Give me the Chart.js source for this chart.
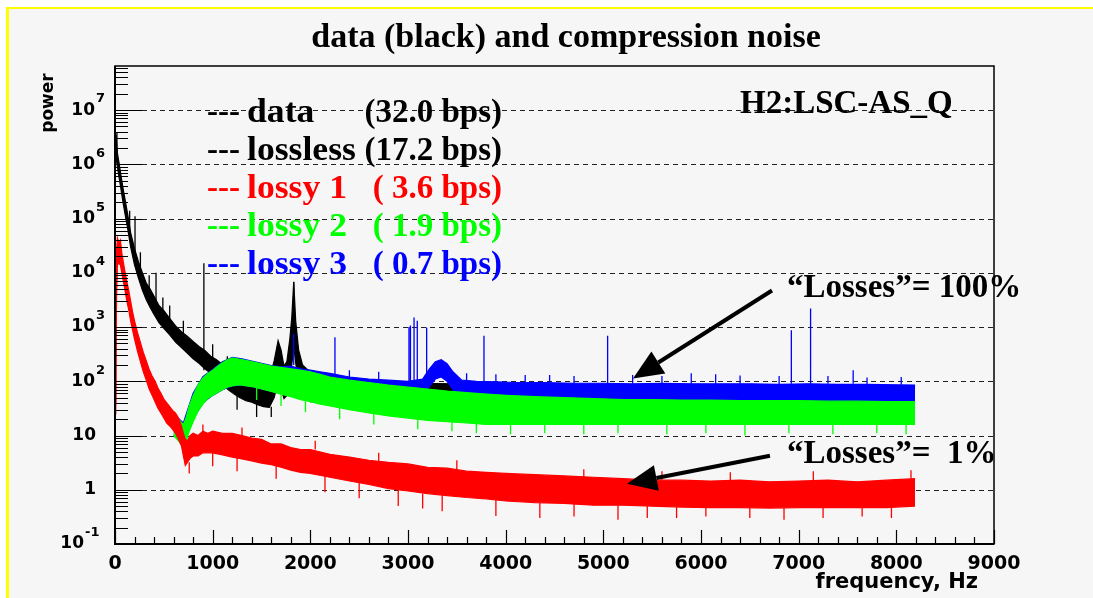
<!DOCTYPE html>
<html>
<head>
<meta charset="utf-8">
<script src="https://cdn.jsdelivr.net/npm/chart.js@4"></script>
<style>
  html, body { margin: 0; padding: 0; background: #fff; }
  canvas { display: block; }
</style>
</head>
<body>
<canvas id="myChart" width="1093" height="598"></canvas>
<script>
// data (power vs frequency); bands are upper / lower edge of the noise
const blackFreq = [0, 10, 25, 40, 60, 80, 100, 130, 160, 200,
  240, 280, 320, 360, 400, 450, 500, 560, 620, 680,
  740, 800, 860, 920, 980, 1040, 1100, 1160, 1220, 1280,
  1340, 1400, 1460, 1520, 1580, 1630, 1670, 1700, 1730, 1760,
  1790, 1810, 1830, 1850, 1880, 1920, 1960, 2000, 2100, 2200,
  2400, 2600, 2800, 3000, 3500, 4000, 4500, 5000, 5500, 6000,
  6500, 7000, 7500, 8000, 8192];
const blackHi = [2.2e6, 3.5e6, 1.6e6, 1.1e6, 6.5e5, 3.8e5, 2.4e5, 1.2e5, 5.5e4, 2.8e4,
  1.6e4, 1.0e4, 6500, 5000, 3700, 2500, 2000, 1450, 1050, 820,
  680, 540, 440, 370, 290, 250, 205, 165, 145, 128,
  118, 108, 100, 102, 108, 240, 560, 380, 190, 230,
  600, 1500, 6800, 1300, 380, 200, 170, 150, 140, 120,
  110, 100, 95, 92, 90, 88, 88, 85, 85, 85,
  85, 85, 82, 82, 80];
const blackLo = [1.1e6, 1.4e6, 9e5, 6e5, 3.6e5, 2.1e5, 1.3e5, 6.5e4, 3e4, 1.4e4,
  8000, 4800, 3200, 2300, 1700, 1200, 950, 720, 530, 420,
  330, 260, 215, 170, 140, 110, 88, 70, 58, 50,
  44, 41, 37, 34, 33, 50, 100, 75, 48, 55,
  100, 200, 450, 220, 85, 58, 47, 42, 40, 38,
  38, 36, 36, 35, 35, 35, 35, 35, 35, 34,
  34, 34, 33, 33, 33];
// single lines: [frequency, from, to]
const blackSpikes = [[20, 1.4e6, 3.8e6], [150, 5e4, 1.4e5], [205, 2e4, 1.1e5], [260, 1.2e4, 2.4e4],
  [350, 4500, 9000], [420, 2000, 1e4], [490, 1500, 3500], [560, 1400, 2500], [700, 700, 1300],
  [910, 160, 1.5e4], [1000, 270, 480], [1150, 160, 290], [1250, 55, 30], [1400, 105, 170],
  [1450, 38, 22], [1550, 100, 160], [1600, 34, 22], [1830, 1000, 6800]];

const redFreq = [0, 8, 15, 25, 40, 55, 70, 85, 100, 120,
  140, 160, 180, 200, 230, 260, 290, 320, 350, 380,
  410, 440, 470, 500, 530, 560, 590, 620, 650, 680,
  700, 720, 740, 770, 800, 850, 900, 950, 1000, 1100,
  1200, 1300, 1400, 1500, 1600, 1700, 1800, 1900, 2000, 2200,
  2400, 2600, 2800, 3000, 3200, 3400, 3600, 3800, 4000, 4300,
  4600, 4900, 5200, 5500, 5800, 6100, 6400, 6700, 7000, 7300,
  7600, 7900, 8192];
const redHi = [40, 2000, 2.5e4, 4.4e4, 3.5e4, 4e4, 2.3e4, 1.6e4, 1.1e4, 7000,
  4800, 3000, 1900, 1300, 800, 520, 340, 240, 165, 125,
  100, 75, 60, 47, 40, 34, 29, 26, 21, 15,
  11, 8.5, 8, 10, 11, 10, 12, 11, 12, 11,
  11, 10, 9, 8.5, 7, 7, 6, 5.5, 5.5, 4.5,
  4, 3.5, 3.2, 3, 2.6, 2.5, 2.2, 2.1, 2, 1.9,
  1.8, 1.7, 1.6, 1.5, 1.5, 1.45, 1.5, 1.4, 1.45, 1.5,
  1.4, 1.5, 1.6];
const redLo = [25, 30, 3000, 1.4e4, 1.5e4, 1.4e4, 1e4, 7000, 5000, 3100,
  2100, 1300, 880, 600, 360, 230, 150, 105, 72, 55,
  42, 32, 26, 21, 17, 15, 13, 11, 8.5, 6.5,
  4.2, 2.8, 3.2, 3.8, 4.2, 4.2, 4.8, 4.8, 4.8, 4.4,
  4.0, 3.7, 3.4, 3.1, 2.9, 2.6, 2.3, 2.1, 2.0, 1.7,
  1.45, 1.25, 1.05, 0.95, 0.85, 0.78, 0.72, 0.68, 0.62, 0.58,
  0.56, 0.52, 0.52, 0.5, 0.48, 0.47, 0.47, 0.46, 0.47, 0.47,
  0.47, 0.47, 0.5];
const redSpikes = [[760, 3.2, 2], [900, 12, 16], [1000, 4.8, 2.7], [1250, 3.9, 2.2], [1300, 10, 14],
  [1650, 2.8, 1.6], [2050, 5.5, 8], [2150, 1.8, 0.9], [2500, 1.4, 0.7], [2700, 3.4, 4.8],
  [2900, 1.0, 0.5], [3150, 0.85, 0.45], [3350, 0.8, 0.4], [3500, 2.4, 3.5], [3900, 0.66, 0.33],
  [4350, 0.58, 0.3], [4700, 0.55, 0.32], [4800, 1.7, 2.4], [5150, 0.52, 0.28], [5450, 0.5, 0.3],
  [5600, 1.5, 2.2], [5750, 0.48, 0.3], [6050, 0.47, 0.32], [6300, 1.5, 2.1], [6500, 0.47, 0.3],
  [6850, 0.46, 0.28], [7150, 1.5, 2.2], [7250, 0.47, 0.3], [7650, 0.47, 0.32], [7950, 0.47, 0.3],
  [8150, 1.6, 2.3]];

const greenFreq = [600, 650, 700, 730, 760, 800, 850, 900, 950, 1000,
  1050, 1100, 1150, 1200, 1250, 1300, 1350, 1400, 1500, 1600,
  1700, 1800, 1900, 2000, 2100, 2200, 2400, 2600, 2800, 3000,
  3200, 3400, 3600, 3800, 4000, 4300, 4600, 4900, 5200, 5500,
  5800, 6100, 6400, 6700, 7000, 7300, 7600, 7900, 8192];
const greenHi = [24, 20, 16, 22, 35, 55, 85, 115, 140, 160,
  190, 220, 250, 270, 260, 250, 240, 230, 210, 190,
  180, 170, 160, 150, 135, 120, 105, 95, 85, 78,
  72, 66, 62, 58, 55, 52, 50, 48, 46, 46,
  45, 45, 44, 44, 44, 43, 43, 42, 42];
const greenLo = [10, 8, 6, 8, 12, 18, 28, 38, 48, 55,
  62, 70, 78, 82, 85, 85, 82, 80, 72, 65,
  58, 52, 46, 42, 38, 35, 30, 26, 23, 21,
  19, 18, 17, 16, 16, 16, 16, 16, 16, 16,
  16, 16, 16, 16, 16, 16, 16, 16, 16];
const greenSpikes = [[1450, 76, 45], [1700, 58, 35], [1950, 44, 27], [2300, 32, 20], [2650, 26, 16],
  [3100, 20, 13], [3450, 18, 12], [3700, 17, 11], [4050, 16, 10.5], [4400, 16, 11],
  [4800, 16, 10.5], [5150, 16, 11], [5650, 16, 10.5], [6050, 16, 11], [6450, 16, 10],
  [6900, 16, 11], [7350, 16, 10.5], [7800, 16, 11], [8100, 16, 10.5]];

const blueFreq = [600, 700, 800, 900, 1000, 1100, 1200, 1300, 1400, 1500,
  1600, 1700, 1800, 1900, 2000, 2100, 2200, 2400, 2600, 2800,
  3000, 3150, 3220, 3280, 3340, 3400, 3460, 3550, 3700, 3900,
  4100, 4400, 4700, 5000, 5300, 5600, 5900, 6200, 6500, 6800,
  7100, 7400, 7700, 8000, 8192];
const blueHi = [25, 17, 60, 122, 165, 228, 275, 258, 235, 215,
  195, 185, 190, 170, 160, 150, 140, 120, 110, 105,
  100, 110, 170, 230, 250, 210, 150, 105, 100, 98,
  95, 95, 92, 92, 90, 92, 90, 90, 90, 88,
  90, 88, 88, 86, 85];
const blueLo = [10, 7, 20, 40, 55, 70, 82, 85, 80, 72,
  65, 60, 55, 50, 48, 47, 47, 46, 46, 46,
  46, 55, 80, 110, 120, 100, 70, 50, 46, 45,
  44, 44, 43, 43, 42, 42, 42, 42, 42, 42,
  42, 42, 42, 42, 42];
const blueSpikes = [[1830, 200, 760], [2252, 120, 650], [2400, 120, 160], [2700, 105, 150],
  [3010, 100, 1000], [3025, 100, 1070], [3062, 100, 1500], [3095, 100, 1300], [3191, 100, 980],
  [3600, 100, 140], [3778, 100, 690], [3900, 98, 135], [4200, 95, 130], [4450, 90, 130],
  [4700, 92, 125], [5044, 90, 690], [5300, 90, 130], [5600, 92, 125], [5900, 90, 140],
  [6150, 90, 135], [6400, 90, 128], [6800, 88, 125], [6925, 90, 870], [7122, 90, 2200],
  [7300, 90, 125], [7558, 90, 160], [7700, 88, 118], [8050, 86, 120]];

// legend / annotation texts
const legendNames = ['data', 'lossless', 'lossy 1', 'lossy 2', 'lossy 3'];
const legendRates = ['(32.0 bps)', '(17.2 bps)', '( 3.6 bps)', '( 1.9 bps)', '( 0.7 bps)'];
const legendColors = ['#000000', '#000000', '#ff0000', '#00ff00', '#0000ff'];
const xTicks = [0, 1000, 2000, 3000, 4000, 5000, 6000, 7000, 8000, 9000];
const yDecades = [-1, 0, 1, 2, 3, 4, 5, 6, 7];

const SERIF = '"Liberation Serif", "Times New Roman", serif';
const SANS = '"DejaVu Sans", sans-serif';

function band(freq, vals) {
  return freq.map((f, i) => ({x: f, y: vals[i]}));
}
function spikes(list) {
  let pts = [];
  list.forEach(s => {
    pts.push({x: s[0], y: s[1]}, {x: s[0], y: s[2]}, {x: s[0], y: null});
  });
  return pts;
}
function bandSets(freq, hi, lo, color, order) {
  return [
    {data: band(freq, hi), borderColor: color, backgroundColor: color, fill: '+1', order: order},
    {data: band(freq, lo), borderColor: color, backgroundColor: color, fill: false, order: order}
  ];
}
function spikeSet(list, color, order) {
  return {data: spikes(list), borderColor: color, fill: false, order: order, borderWidth: 1.3};
}

const framePlugin = {
  id: 'frame',
  beforeDraw(chart) {
    const c = chart.ctx;
    c.save();
    c.fillStyle = '#ffffff';
    c.fillRect(0, 0, chart.width, chart.height);
    c.fillStyle = '#f6f6f6';
    c.fillRect(6, 7, chart.width, chart.height);
    c.fillStyle = '#ffff00';
    c.fillRect(6, 7, 3, chart.height);
    c.fillRect(6, 7, chart.width, 2);
    c.restore();
  },
  beforeDatasetsDraw(chart) {
    const c = chart.ctx, a = chart.chartArea, y = chart.scales.y;
    c.save();
    c.strokeStyle = '#222';
    c.lineWidth = 1;
    c.setLineDash([5, 4]);
    yDecades.forEach(e => {
      if (e < 0) return;
      const py = Math.round(y.getPixelForValue(Math.pow(10, e))) + 0.5;
      c.beginPath();
      c.moveTo(a.left, py);
      c.lineTo(a.right, py);
      c.stroke();
    });
    c.restore();
  },
  afterDatasetsDraw(chart) {
    const c = chart.ctx, a = chart.chartArea, x = chart.scales.x, y = chart.scales.y;
    c.save();
    // box
    c.strokeStyle = '#000';
    c.lineWidth = 1.5;
    c.strokeRect(a.left, a.top, a.right - a.left, a.bottom - a.top);
    c.lineWidth = 2;
    c.beginPath();
    c.moveTo(a.left, a.top);
    c.lineTo(a.left, a.bottom);
    c.lineTo(a.right, a.bottom);
    c.stroke();

    // ticks inside
    c.lineWidth = 1.2;
    c.beginPath();
    for (let e = -1; e <= 7; e++) {
      for (let m = 1; m <= 9; m++) {
        const v = m * Math.pow(10, e);
        if (v > y.max) break;
        const py = Math.round(y.getPixelForValue(v)) + 0.5;
        c.moveTo(a.left, py);
        c.lineTo(a.left + (m === 1 ? 27 : 13), py);
      }
    }
    for (let f = 0; f <= 9000; f += 200) {
      const px = Math.round(x.getPixelForValue(f)) + 0.5;
      c.moveTo(px, a.bottom);
      c.lineTo(px, a.bottom - (f % 1000 === 0 ? 14 : 7));
    }
    c.stroke();

    // tick labels
    c.fillStyle = '#000';
    c.textBaseline = 'middle';
    c.font = 'bold 19px ' + SANS;
    c.textAlign = 'center';
    xTicks.forEach(f => {
      c.fillText(String(f), x.getPixelForValue(f), 564);
    });
    yDecades.forEach(e => {
      const py = y.getPixelForValue(Math.pow(10, e));
      c.font = 'bold 17px ' + SANS;
      c.textAlign = 'right';
      if (e === 0) {
        c.fillText('1', 96, py);
      } else if (e === 1) {
        c.fillText('10', 96, py);
      } else {
        const xr = e < 0 ? 84 : 95;
        c.fillText('10', xr, py);
        c.font = 'bold 13px ' + SANS;
        c.textAlign = 'left';
        c.fillText(e < 0 ? '-' + (-e) : String(e), xr + 1, py - 11);
      }
    });

    // axis titles
    c.font = 'bold 21px ' + SANS;
    c.textAlign = 'right';
    c.fillText('frequency, Hz', 978, 583);
    c.save();
    c.translate(49, 103);
    c.rotate(-Math.PI / 2);
    c.font = 'bold 17px ' + SANS;
    c.textAlign = 'center';
    c.fillText('power', 0, 0);
    c.restore();

    // title
    c.textBaseline = 'alphabetic';
    c.font = 'bold 34px ' + SERIF;
    c.textAlign = 'center';
    c.fillText('data (black) and compression noise', 566, 47);

    // legend
    c.font = 'bold 33px ' + SERIF;
    legendNames.forEach((name, i) => {
      const base = 122 + i * 38;
      c.fillStyle = legendColors[i];
      c.textAlign = 'left';
      c.fillText('---', 207, base);
      c.save();
      c.translate(247, base);
      c.scale(1.08, 1);
      c.fillText(name, 0, 0);
      c.restore();
      c.textAlign = 'right';
      c.fillText(legendRates[i], 502, base);
    });

    c.fillStyle = '#000';
    c.textAlign = 'left';
    c.fillText('H2:LSC-AS_Q', 740, 113);
    c.fillText('\u201CLosses\u201D= 100%', 787, 297);
    c.fillText('\u201CLosses\u201D=  1%', 787, 463);

    // arrows (data coordinates)
    drawArrow(c, x.getPixelForValue(6727), y.getPixelForValue(4730), x.getPixelForValue(5304), y.getPixelForValue(112));
    drawArrow(c, x.getPixelForValue(6706), y.getPixelForValue(4.25), x.getPixelForValue(5242), y.getPixelForValue(1.29));
    c.restore();
  }
};

function drawArrow(c, x1, y1, x2, y2) {
  const ang = Math.atan2(y2 - y1, x2 - x1);
  const len = 30, half = 13;
  const bx = x2 - len * Math.cos(ang), by = y2 - len * Math.sin(ang);
  c.strokeStyle = '#000';
  c.fillStyle = '#000';
  c.lineWidth = 4;
  c.setLineDash([]);
  c.beginPath();
  c.moveTo(x1, y1);
  c.lineTo(bx, by);
  c.stroke();
  c.beginPath();
  c.moveTo(x2, y2);
  c.lineTo(bx + half * Math.sin(ang), by - half * Math.cos(ang));
  c.lineTo(bx - half * Math.sin(ang), by + half * Math.cos(ang));
  c.closePath();
  c.fill();
}

let datasets = [];
datasets = datasets.concat(bandSets(blackFreq, blackHi, blackLo, '#000000', 4));
datasets.push(spikeSet(blackSpikes, '#000000', 4));
datasets = datasets.concat(bandSets(blueFreq, blueHi, blueLo, '#0000ff', 3));
datasets.push(spikeSet(blueSpikes, '#0000ff', 3));
datasets = datasets.concat(bandSets(greenFreq, greenHi, greenLo, '#00ff00', 2));
datasets.push(spikeSet(greenSpikes, '#00ff00', 2));
datasets = datasets.concat(bandSets(redFreq, redHi, redLo, '#ff0000', 1));
datasets.push(spikeSet(redSpikes, '#ff0000', 1));

let ctx = document.getElementById('myChart');
let myChart = new Chart(ctx, {
  type: 'line',
  data: { datasets: datasets },
  options: {
    responsive: false,
    animation: false,
    devicePixelRatio: 1,
    layout: { padding: { left: 115, top: 66, right: 99, bottom: 54 } },
    elements: {
      point: { radius: 0 },
      line: { borderWidth: 1.2, tension: 0 }
    },
    plugins: { legend: { display: false }, tooltip: { enabled: false } },
    scales: {
      x: { type: 'linear', min: 0, max: 9000, display: false },
      y: { type: 'logarithmic', min: 0.1, max: 6.5e7, display: false }
    }
  },
  plugins: [framePlugin]
});
</script>
</body>
</html>
